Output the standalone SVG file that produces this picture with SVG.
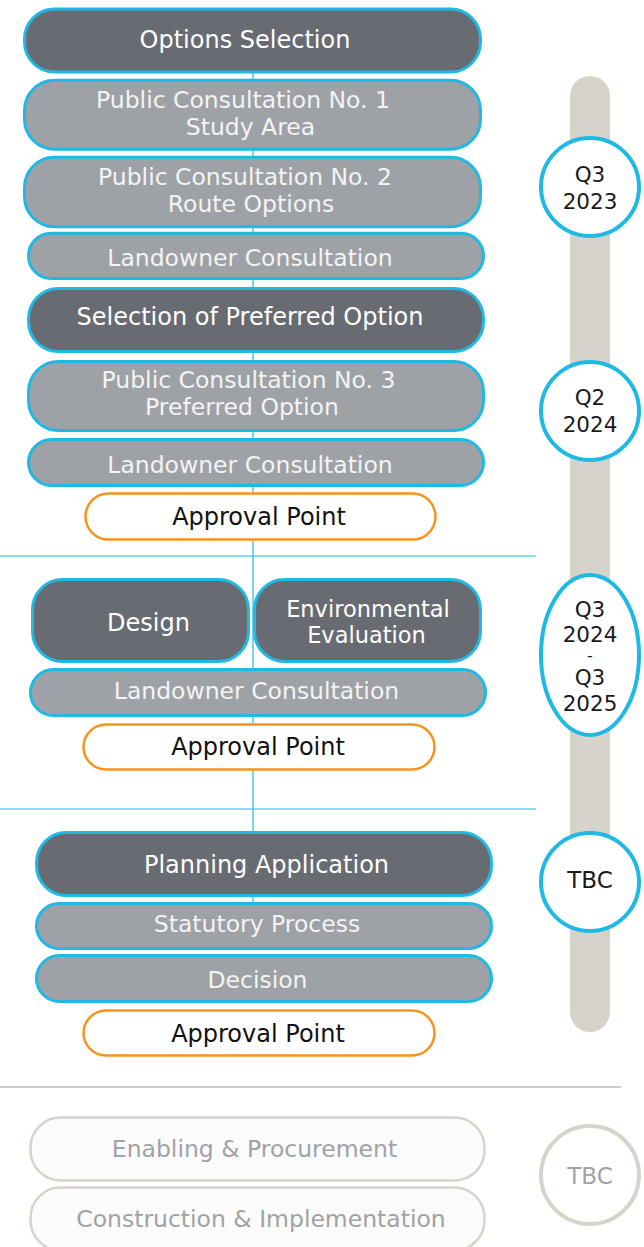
<svg xmlns="http://www.w3.org/2000/svg" width="644" height="1247" viewBox="0 0 644 1247">
<style>
text{font-family:"DejaVu Sans","Liberation Sans",sans-serif;text-anchor:middle}
.dark{fill:#686b72;stroke:#1fb9e3;stroke-width:3}
.gray{fill:#9ea1a5;stroke:#1fb9e3;stroke-width:3}
.appr{fill:#ffffff;stroke:#f7941d;stroke-width:2.5}
.fade{fill:#fcfbfb;stroke:#d6d4ca;stroke-width:2.5}
.td{fill:#ffffff;font-size:24px}
.tg{fill:#f4f4f5;font-size:23.5px}
.ta{fill:#111111;font-size:24px}
.tf{fill:#a0a2a5;font-size:23.5px}
.ring{fill:#ffffff;stroke:#1fb9e3;stroke-width:4}
.ringf{fill:#ffffff;stroke:#d6d4ca;stroke-width:4}
.tc{fill:#1a1a1a;font-size:21.5px}
.sep{stroke:#1fb9e3;stroke-width:1.2}
</style>
<g id="separators">
<line class="sep" x1="0" y1="556" x2="536" y2="556"/>
<line class="sep" x1="0" y1="809" x2="536" y2="809"/>
<line x1="0" y1="1087" x2="621" y2="1087" stroke="#c8cbce" stroke-width="2"/>
</g>
<g id="timeline">
<rect x="570" y="76" width="40" height="956" rx="20" fill="#d6d4ca"/>
</g>
<g id="connectors">
<line x1="253" y1="40" x2="253" y2="905" stroke="#1fb9e3" stroke-width="1.2"/>
</g>
<g id="n-options"><rect class="dark" x="24.5" y="9" width="456" height="63" rx="30"/><text class="td" x="245" y="48.3">Options Selection</text></g>
<g id="n-pc1"><rect class="gray" x="24.5" y="80.2" width="456" height="69" rx="30"/><text class="tg" x="243" y="108.3">Public Consultation No. 1</text><text class="tg" x="250.5" y="135">Study Area</text></g>
<g id="n-pc2"><rect class="gray" x="24.5" y="157.2" width="456" height="69.6" rx="30"/><text class="tg" x="245" y="185">Public Consultation No. 2</text><text class="tg" x="251" y="212">Route Options</text></g>
<g id="n-land1"><rect class="gray" x="28.5" y="233.2" width="455" height="45.3" rx="22.6"/><text class="tg" x="250" y="265.7">Landowner Consultation</text></g>
<g id="n-select"><rect class="dark" x="28.5" y="288.5" width="455" height="63" rx="30"/><text class="td" x="250" y="325">Selection of Preferred Option</text></g>
<g id="n-pc3"><rect class="gray" x="28.5" y="361.5" width="455" height="69" rx="30"/><text class="tg" x="248.5" y="388">Public Consultation No. 3</text><text class="tg" x="242" y="415">Preferred Option</text></g>
<g id="n-land2"><rect class="gray" x="28.5" y="439.5" width="455" height="46" rx="23"/><text class="tg" x="250" y="473">Landowner Consultation</text></g>
<g id="n-appr1"><rect class="appr" x="85.5" y="493.5" width="350" height="46" rx="23"/><text class="ta" x="259" y="525">Approval Point</text></g>
<g id="n-design"><rect class="dark" x="32.5" y="579.5" width="216" height="82" rx="30"/><text class="td" x="148.5" y="631">Design</text></g>
<g id="n-env"><rect class="dark" x="254.5" y="579.5" width="226" height="82" rx="30"/><text class="td" x="368" y="617" style="font-size:22.5px">Environmental</text><text class="td" x="366.5" y="643" style="font-size:22.5px">Evaluation</text></g>
<g id="n-land3"><rect class="gray" x="30.5" y="669.5" width="455" height="46" rx="23"/><text class="tg" x="256.5" y="699">Landowner Consultation</text></g>
<g id="n-appr2"><rect class="appr" x="83.5" y="724.5" width="351" height="45" rx="22.5"/><text class="ta" x="258" y="755">Approval Point</text></g>
<g id="n-planning"><rect class="dark" x="36.5" y="832.5" width="455" height="63" rx="30"/><text class="td" x="266.5" y="873">Planning Application</text></g>
<g id="n-statutory"><rect class="gray" x="36.5" y="903.5" width="455" height="45" rx="22.5"/><text class="tg" x="257" y="931.5">Statutory Process</text></g>
<g id="n-decision"><rect class="gray" x="36.5" y="955.5" width="455" height="46" rx="23"/><text class="tg" x="257.5" y="988">Decision</text></g>
<g id="n-appr3"><rect class="appr" x="83.5" y="1010.5" width="351" height="45" rx="22.5"/><text class="ta" x="258" y="1041.5">Approval Point</text></g>
<g id="n-enabling"><rect class="fade" x="30.5" y="1117.5" width="454" height="63" rx="30"/><text class="tf" x="254.5" y="1156.5">Enabling &amp; Procurement</text></g>
<g id="n-construction"><rect class="fade" x="30.5" y="1187.5" width="454" height="63" rx="30"/><text class="tf" x="261" y="1226.5">Construction &amp; Implementation</text></g>
<g id="m-q3-2023"><circle class="ring" cx="590" cy="187" r="49"/><text class="tc" x="590" y="181.5">Q3</text><text class="tc" x="590" y="209">2023</text></g>
<g id="m-q2-2024"><circle class="ring" cx="590" cy="411" r="49"/><text class="tc" x="590" y="405">Q2</text><text class="tc" x="590" y="432">2024</text></g>
<g id="m-q3-2024-2025"><ellipse class="ring" cx="590" cy="655" rx="49" ry="80"/><text class="tc" x="590" y="616.5">Q3</text><text class="tc" x="590" y="641.5">2024</text><text class="tc" x="590" y="661" style="font-size:16px">-</text><text class="tc" x="590" y="685">Q3</text><text class="tc" x="590" y="711">2025</text></g>
<g id="m-tbc1"><circle class="ring" cx="590" cy="882" r="49"/><text class="tc" x="590" y="888" style="font-size:23px">TBC</text></g>
<g id="m-tbc2"><circle class="ringf" cx="590" cy="1175" r="49"/><text class="tc" x="590" y="1184" style="font-size:23px;fill:#a0a2a5">TBC</text></g>
</svg>
